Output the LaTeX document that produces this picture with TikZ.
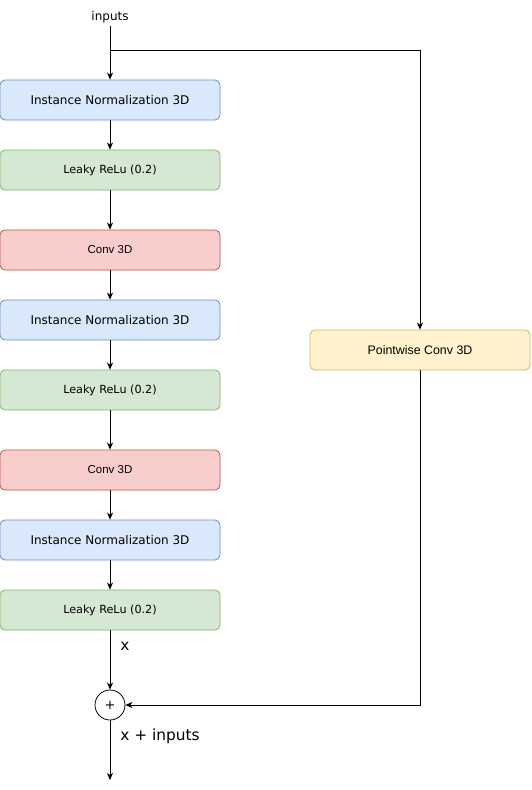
\documentclass[tikz,border=0pt]{standalone}
\usepackage{fontspec}
\setmainfont{DejaVu Sans}
\newfontfamily\arialfont{Liberation Sans}
\usetikzlibrary{arrows.meta}

\definecolor{blueline}{HTML}{6C8EBF}
\definecolor{bluefill}{HTML}{DAE8FC}
\definecolor{greenline}{HTML}{82B366}
\definecolor{greenfill}{HTML}{D5E8D4}
\definecolor{redline}{HTML}{B85450}
\definecolor{redfill}{HTML}{F8CECC}
\definecolor{yellowline}{HTML}{D6B656}
\definecolor{yellowfill}{HTML}{FFF2CC}

\tikzset{
  block/.style={draw, rounded corners=5pt, line width=0.8pt, minimum width=220pt, minimum height=40pt, inner sep=0pt},
  normblock/.style={block, draw=blueline, fill=bluefill, font=\fontsize{12}{14}\selectfont},
  relublock/.style={block, draw=greenline, fill=greenfill, font=\fontsize{11.2}{13}\selectfont},
  convblock/.style={block, draw=redline, fill=redfill, font=\arialfont\fontsize{11.5}{13}\selectfont},
  pwblock/.style={block, draw=yellowline, fill=yellowfill, font=\arialfont\fontsize{12.4}{14}\selectfont},
  link/.style={->, line width=0.8pt},
}

\begin{document}
\begin{tikzpicture}[x=1pt,y=-1pt,>={Stealth[length=7pt,width=6pt,inset=2pt]}]
		\useasboundingbox (0,0) rectangle (532,790);
		% main column
		\node (inputs) at (110,17) {\fontsize{12}{14}\selectfont inputs};
		\node[normblock] (norm1) at (110,100) {Instance Normalization 3D};
		\node[relublock] (relu1) at (110,170) {Leaky ReLu (0.2)};
		\node[convblock] (conv1) at (110,250) {Conv 3D};
		\node[normblock] (norm2) at (110,320) {Instance Normalization 3D};
		\node[relublock] (relu2) at (110,390) {Leaky ReLu (0.2)};
		\node[convblock] (conv2) at (110,470) {Conv 3D};
		\node[normblock] (norm3) at (110,540) {Instance Normalization 3D};
		\node[relublock] (relu3) at (110,610) {Leaky ReLu (0.2)};
		\node[draw, circle, line width=0.8pt, fill=white, minimum size=30pt, inner sep=0pt, font=\fontsize{13}{15}\selectfont] (plus) at (110,705) {+};
		\coordinate (output) at (110,780);
		% shortcut branch
		\node[pwblock] (pwconv) at (420,350) {Pointwise Conv 3D};
		\coordinate (split) at (110,50);
		% connectors
		\draw[link] (inputs) -- (norm1);
		\draw[link] (norm1) -- (relu1);
		\draw[link] (relu1) -- (conv1);
		\draw[link] (conv1) -- (norm2);
		\draw[link] (norm2) -- (relu2);
		\draw[link] (relu2) -- (conv2);
		\draw[link] (conv2) -- (norm3);
		\draw[link] (norm3) -- (relu3);
		\draw[link] (relu3) -- (plus);
		\draw[link] (plus) -- (output);
		\draw[link] (split) -| (pwconv);
		\draw[link] (pwconv) |- (plus);
		% labels
		\node at (125,646) {\fontsize{15.4}{17}\selectfont x};
		\node at (160,736) {\fontsize{15.4}{17}\selectfont x + inputs};
	\end{tikzpicture}
\end{document}
